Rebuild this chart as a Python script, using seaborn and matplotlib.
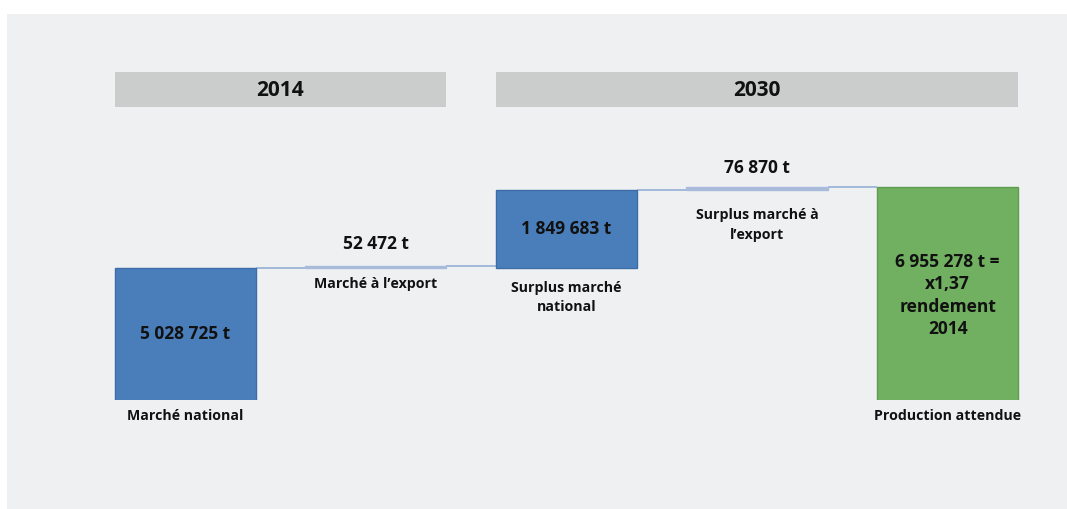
import matplotlib
matplotlib.use("Agg")
import matplotlib.pyplot as plt
from matplotlib.patches import Rectangle
import seaborn as sns

# Waterfall: 2014 production split, 2030 surpluses and expected production (tonnes)
categories = ["Marché national", "Marché à l’export", "Surplus marché national",
              "Surplus marché à l’export", "Production attendue"]
bottom_labels = ["Marché national", "", "Surplus marché\nnational", "", "Production attendue"]
side_labels = ["", "Marché à l’export", "", "Surplus marché à\nl’export", ""]
values = [5028725, 52472, 1849683, 76870, 6955278]
# total: starts at zero; side: sits on the running level without adding; step: adds to it
kinds = ["total", "side", "step", "step", "total"]
periods = ["2014", "2030"]
period_spans = [(0, 1), (2, 4)]

W, H = 1067, 509
BLUE, LIGHT, GREEN = "#4a7ebb", "#a8bbdb", "#70b060"
PANEL, HEADER = "#eff0f2", "#cbcccc"
TXT = "#111111"
FONT = ["Open Sans", "DejaVu Sans"]
BAR_W = 0.74

sns.set_theme(style="white")
plt.rcParams["font.family"] = FONT
plt.rcParams["font.weight"] = "bold"

# running levels of the waterfall
bottoms, tops = [], []
level = 0
for v, k in zip(values, kinds):
    if k == "total":
        b = 0
        level = v
    elif k == "side":
        b = level
    else:
        b = level
        level += v
    bottoms.append(b)
    tops.append(b + v)

fig = plt.figure(figsize=(W / 100, H / 100), dpi=100)
fig.patch.set_facecolor("white")


def fx(px):
    return px / W


def fy(py):
    return 1 - py / H


# grey panel behind everything
fig.patches.append(Rectangle((fx(7), 0), 1 - fx(7), fy(14), transform=fig.transFigure,
                             facecolor=PANEL, edgecolor="none", zorder=-2))

ax = fig.add_axes([fx(89.9), fy(400), fx(953), fy(60) - fy(400)])
ax.set_facecolor("none")

sns.barplot(x=categories, y=values, bottom=bottoms, order=categories, width=BAR_W,
            color=BLUE, errorbar=None, saturation=1, ax=ax, zorder=3)

fills = [BLUE, LIGHT, BLUE, LIGHT, GREEN]
edges = ["#3d6da6", LIGHT, "#3d6da6", LIGHT, "#5f9c50"]
for patch, fc, ec in zip(ax.patches, fills, edges):
    patch.set_facecolor(fc)
    patch.set_edgecolor(ec)
    patch.set_linewidth(1)

# truncated value axis (hidden) so the small export flows stay visible
ax.set_xlim(-0.5, 4.5)
y0 = 1888800
ax.set_ylim(y0, 9976300)
ax.axis("off")

half = BAR_W / 2
for i in range(len(values) - 1):
    ax.plot([i + half, i + 1 - half], [tops[i], tops[i]], color="#8eaad3", lw=1.1,
            zorder=2, solid_capstyle="butt")

ratio = values[4] / (values[0] + values[1])


def fmt(v):
    return f"{v:,}".replace(",", " ") + " t"


inside = [fmt(values[0]), None, fmt(values[2]), None,
          fmt(values[4]) + " =\nx" + f"{ratio:.2f}".replace(".", ",") + "\nrendement\n2014"]
value_pad = [0, 13, 0, 10, 0]
side_pad = [0, 9, 0, 18, 0]
bottom_pad = [9, 0, 13, 0, 9]

for i, v in enumerate(values):
    if inside[i] is not None:
        mid = (max(bottoms[i], y0) + tops[i]) / 2
        ax.annotate(inside[i], (i, mid), xytext=(0, -2 if i == 4 else 0),
                    textcoords="offset pixels", ha="center", va="center",
                    fontsize=12.5, fontweight="bold", color=TXT, linespacing=1.3, zorder=5)
    else:
        ax.annotate(fmt(v), (i, tops[i]), xytext=(0, value_pad[i]), textcoords="offset pixels",
                    ha="center", va="bottom", fontsize=12.5, fontweight="bold", color=TXT)
        ax.annotate(side_labels[i], (i, bottoms[i]), xytext=(0, -side_pad[i]),
                    textcoords="offset pixels", ha="center", va="top", fontsize=10.2,
                    fontweight="bold", color=TXT, linespacing=1.55)
    if bottom_labels[i]:
        ref = max(bottoms[i], y0)
        ax.annotate(bottom_labels[i], (i, ref), xytext=(0, -bottom_pad[i]),
                    textcoords="offset pixels", ha="center", va="top", fontsize=10.2,
                    fontweight="bold", color=TXT, linespacing=1.5)

# period headers spanning their bars
for name, (a, b) in zip(periods, period_spans):
    left = a - half
    ax.add_patch(Rectangle((left, 8858400), (b + half) - left, 832400, facecolor=HEADER,
                           edgecolor="none", clip_on=False, zorder=1))
    ax.text((left + b + half) / 2, 9262600, name, ha="center", va="center",
            fontsize=15, fontweight="bold", color=TXT)

fig.savefig("out.png", dpi=100, facecolor=fig.get_facecolor())
